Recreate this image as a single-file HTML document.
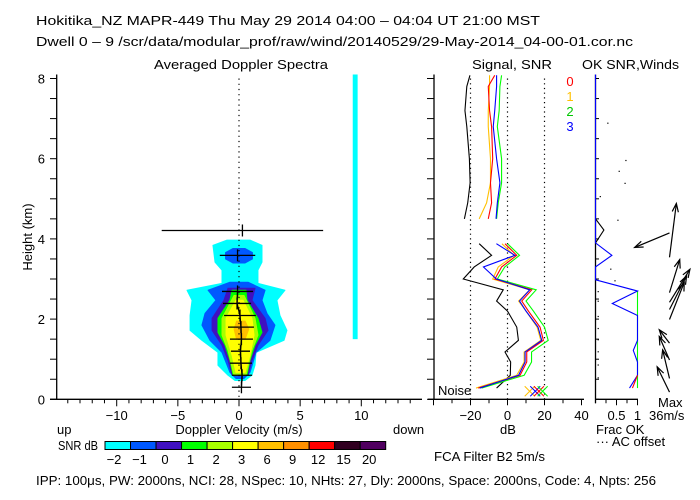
<!DOCTYPE html>
<html><head><meta charset="utf-8"><style>
html,body{margin:0;padding:0;background:#fff;}
svg{display:block;font-family:"Liberation Sans",sans-serif;}
text{font-size:13px;fill:#000;}
</style></head><body>
<svg id="chart" width="700" height="500" viewBox="0 0 700 500" xmlns="http://www.w3.org/2000/svg">
<rect x="0" y="0" width="700" height="500" fill="#fff"/>
<text x="36" y="25" font-size="14" textLength="504" lengthAdjust="spacingAndGlyphs">Hokitika_NZ  MAPR-449  Thu May 29 2014 04:00 – 04:04 UT 21:00 MST</text>
<text x="36" y="46" font-size="14" textLength="597" lengthAdjust="spacingAndGlyphs">Dwell  0 –  9   /scr/data/modular_prof/raw/wind/20140529/29-May-2014_04-00-01.cor.nc</text>
<text x="154" y="69" font-size="14" textLength="174" lengthAdjust="spacingAndGlyphs">Averaged Doppler Spectra</text>
<text x="472" y="69" font-size="14" textLength="80" lengthAdjust="spacingAndGlyphs">Signal, SNR</text>
<text x="582" y="69" font-size="14" textLength="97" lengthAdjust="spacingAndGlyphs">OK SNR,Winds</text>
<text transform="translate(32,237) rotate(-90)" text-anchor="middle" font-size="13">Height (km)</text>
<g id="main"></g>
<g id="mid"></g>
<g id="right"></g>
<g id="cbar"></g>
<text x="57" y="434">up</text>
<text x="239" y="434" text-anchor="middle">Doppler Velocity (m/s)</text>
<text x="393" y="434">down</text>
<text x="58" y="450" textLength="40" lengthAdjust="spacingAndGlyphs">SNR dB</text>
<text x="508" y="434" text-anchor="middle">dB</text>
<text x="434" y="461" textLength="111" lengthAdjust="spacingAndGlyphs">FCA Filter B2  5m/s</text>
<text x="596" y="434">Frac OK</text>
<text x="596" y="446">··· AC offset</text>
<text x="658" y="407">Max</text>
<text x="649" y="420">36m/s</text>
<text x="438" y="395" font-size="12">Noise</text>
<text x="36" y="485" textLength="620" lengthAdjust="spacingAndGlyphs">IPP: 100μs,  PW: 2000ns,  NCI:  28,  NSpec: 10, NHts: 27,  Dly: 2000ns,  Space: 2000ns,  Code: 4,  Npts: 256</text>
</svg>
<script>
// ---------- data ----------
const heightTicks = [0,0.5,1,1.5,2,2.5,3,3.5,4,4.5,5,5.5,6,6.5,7,7.5,8];
const heightLabels = ['0','2','4','6','8'];
const velTickLabels = ['-10','-5','0','5','10'];
const dbTickLabels = ['-20','0','20','40'];
const fracTickLabels = ['0.5','1'];
const cbarLabels = ['-2','-1','0','1','2','3','6','9','12','15','20'];
const cbarColors = ['#00ffff','#0058ff','#4010c0','#00ff00','#a8ff00','#ffff00','#ffc000','#ff9000','#ff0000','#300020','#500060'];
const cyanH = [3.97,3.84,3.42,3.22,2.89,2.72,2.47,2.09,1.72,1.47,1.17,0.85,0.6,0.47];
const cyanL = [-0.98,-2.13,-1.96,-1.39,-1.39,-4.25,-3.84,-4.0,-4.0,-3.03,-1.72,-1.72,-0.9,-0.33];
const cyanR = [0.9,1.88,1.88,1.55,1.55,3.76,3.1,3.35,3.92,3.68,1.39,1.31,1.06,0.49];
const blueTopH = [3.76,3.66,3.5,3.4];
const blueTopL = [-0.5,-1.1,-1.1,-0.5];
const blueTopR = [0.5,1.1,1.1,0.5];
const blueH = [2.92,2.72,2.47,2.14,1.85,1.47,1.17,0.67,0.52];
const blueL = [-0.74,-2.53,-1.88,-2.78,-3.03,-2.37,-1.39,-0.74,-0.25];
const blueR = [0.74,2.13,1.88,2.29,2.94,2.53,1.39,0.9,0.41];
const indigoH = [2.77,2.47,2.02,1.72,1.35,0.97,0.6];
const indigoL = [-0.9,-1.23,-2.2,-2.2,-1.39,-0.9,-0.57];
const indigoR = [1.31,1.06,2.13,2.37,1.55,1.06,0.74];
const greenH = [2.72,2.47,2.02,1.67,1.35,0.97,0.6];
const greenL = [-0.57,-0.74,-1.72,-1.72,-1.14,-0.74,-0.49];
const greenR = [0.57,0.65,1.55,1.88,1.31,0.9,0.65];
const lgreenH = [2.59,2.02,1.6,1.22,0.6];
const lgreenL = [-0.41,-1.39,-1.39,-0.9,-0.41];
const lgreenR = [0.41,1.31,1.55,1.06,0.57];
const yellowH = [2.47,2.02,1.6,1.1,0.67];
const yellowL = [-0.25,-1.06,-1.06,-0.57,-0.25];
const yellowR = [0.33,1.06,1.23,0.9,0.49];
const goldH = [1.95,1.75,1.5];
const goldL = [-0.2,-0.4,-0.2];
const goldR = [0.5,0.8,0.5];
const crossH = [4.21,3.59,2.69,2.39,2.09,1.80,1.50,1.20,0.90,0.60,0.30];
const crossV = [0.28,-0.12,-0.12,-0.16,0.08,0.16,0.2,0.12,0.16,0.25,0.2];
const crossW = [6.6,1.45,1.27,1.15,1.3,1.06,0.94,0.78,0.9,0.82,0.78];
const barVel = [9.3,9.7];
const barHeight = [1.5,8.1];
const upperH = [4.5,4.9,5.4,6.0,6.8,7.2,7.8,8.08];
const lowerH = [0.28,0.6,0.93,1.18,1.47,1.8,2.2,2.45,2.73,3.0,3.3,3.59,3.88];
const sigUpper = [-23.3,-21.5,-20.2,-20.6,-22,-23,-22,-20.3];
const sigLower = [-5.9,1.5,1.7,-1.35,5.9,5,0,-5.9,-2.3,-23.9,-18,-8.6,-15.3];
const snr0Upper = [-10.4,-8.6,-9.2,-8.0,-8.6,-9.7,-10.4,-6.9];
const snr1Upper = [-15.3,-11.3,-9.2,-9.2,-10.4,-10.4,-9.7,-9.7];
const snr2Upper = [-5.9,-5.0,-3.2,-3.2,-5.5,-4.5,-4.1,-3.2];
const snr3Upper = [-6.2,-5.5,-4.1,-5.9,-7.7,-6.9,-5.9,-5.9];
const snr0Lower = [-15.8,6.8,10.4,10.4,19.4,17.6,11.3,7.7,13.1,-6.8,-3.2,5.0,-1.35];
const snr1Lower = [-17,5,9,9,18,16,10,6,12,-8,-5,3.5,-3];
const snr2Lower = [-14,9,13,13,22,20,14,10,15.5,-5.5,-1.5,6.5,0];
const snr3Lower = [-15,6,9.5,9.5,18.5,16.5,10,6.5,12,-6,-13,4,-6];
const noiseMarkDb = [12,15,17,19];
const okBlackH = [4.5,4.22,3.9];
const okBlackF = [0,0.2,0];
const okBlueH = [8.1,3.9,3.59,3.3,2.98,2.7,2.39,2.09,1.47,1.22,0.93,0.6,0.28];
const okBlueF = [0,0,0.39,0,0,1,0.4,1,1,0.9,1,1,0.81];
const okGreenH = [2.7,0.28];
const okGreenF = [1,1];
const okRedH = [0.6,0.28];
const okRedF = [1,0.88];
const acDotH = [6.9,5.97,5.7,5.4,5.07,4.48,3.26,2.97,2.7,2.46,2.08,1.78,1.5,1.2,0.87,0.55];
const acDotF = [0.28,0.71,0.55,0.69,0.1,0.52,0.35,0.45,0.05,0.05,0.05,0.05,0.05,0.05,0.05,0.05];
const windH = [3.54,4.15,2.66,2.42,2.24,1.99,1.40,0.98,0.52,0.18];
const windU = [4.9,-24.9,7.3,14.6,12.2,10.5,-7.3,-7.3,-4.9,-8.8];
const windVc = [38.5,-10.4,23.6,23.6,24,26.4,9.6,16.8,20.4,18];

const yH = h => 399.3 - h*40.1;
const xV = v => 239 + v*12.23;
const xDb = d => 507.5 + d*1.85;
const xF = f => 595.5 + f*42;
const NS = 'http://www.w3.org/2000/svg';
function mk(tag, attrs, parent){const e=document.createElementNS(NS,tag);for(const k in attrs)e.setAttribute(k,attrs[k]);parent.appendChild(e);return e;}
const main=document.getElementById('main'), mid=document.getElementById('mid'), right=document.getElementById('right'), cbar=document.getElementById('cbar');

function contour(H,L,R,color,name){
  const pts=[];
  for(let i=0;i<H.length;i++)pts.push(xV(L[i])+','+yH(H[i]));
  for(let i=H.length-1;i>=0;i--)pts.push(xV(R[i])+','+yH(H[i]));
  const p=mk('polygon',{points:pts.join(' '),fill:color,stroke:color,'stroke-width':1,'stroke-linejoin':'round'},main);
  
  
}
contour(cyanH,cyanL,cyanR,cbarColors[0],'contour-snr-minus2');
contour(blueTopH,blueTopL,blueTopR,cbarColors[1],'contour-snr-minus1-top');
contour(blueH,blueL,blueR,cbarColors[1],'contour-snr-minus1');
contour(indigoH,indigoL,indigoR,cbarColors[2],'contour-snr-0');
contour(greenH,greenL,greenR,cbarColors[3],'contour-snr-1');
contour(lgreenH,lgreenL,lgreenR,cbarColors[4],'contour-snr-2');
contour(yellowH,yellowL,yellowR,cbarColors[5],'contour-snr-3');
contour(goldH,goldL,goldR,cbarColors[6],'contour-snr-6');

const bar=mk('rect',{x:xV(barVel[0]),y:yH(barHeight[1]),width:xV(barVel[1])-xV(barVel[0]),height:yH(barHeight[0])-yH(barHeight[1]),fill:'#00ffff'},main);



const zl=mk('line',{x1:xV(0),x2:xV(0),y1:yH(8),y2:yH(0),stroke:'#000','stroke-width':1.2,'stroke-dasharray':'1.2 4'},main);



for(let i=0;i<crossH.length;i++){
  const y=yH(crossH[i]), x=xV(crossV[i]);
  const g=mk('g',{stroke:'#000','stroke-width':1.3},main);
  
  
  mk('line',{x1:xV(crossV[i]-crossW[i]),x2:xV(crossV[i]+crossW[i]),y1:y,y2:y},g);
  mk('line',{x1:x,x2:x,y1:y-6,y2:y+6},g);
}
{
  const pts=[];
  for(let i=2;i<crossH.length;i++){pts.push(xV(crossV[i])+','+yH(crossH[i]));}
  const pl=mk('polyline',{points:pts.join(' '),fill:'none',stroke:'#000','stroke-width':1.3},main);
  
  
}

function axisLine(x1,y1,x2,y2,parent,name){const l=mk('line',{x1,y1,x2,y2,stroke:'#000','stroke-width':1.3},parent);}
axisLine(56.7,yH(8.1),56.7,yH(0),main,'y-axis');
axisLine(50,yH(0),422,yH(0),main,'x-axis');
heightTicks.forEach(h=>{mk('line',{x1:50,x2:56.7,y1:yH(h),y2:yH(h),stroke:'#000'},main);
  mk('line',{x1:427,x2:434,y1:yH(h),y2:yH(h),stroke:'#000'},mid);
  mk('line',{x1:595.5,x2:599,y1:yH(h),y2:yH(h),stroke:'#000'},right);});
heightLabels.forEach(s=>{const t=mk('text',{x:45,y:yH(+s)+5,'text-anchor':'end'},main);t.textContent=s;
  
  });
for(let v=-15;v<=15;v++){const x=xV(v);if(x<57||x>422)continue;mk('line',{x1:x,x2:x,y1:yH(0),y2:yH(0)+(v%5===0?7:4),stroke:'#000'},main);}
velTickLabels.forEach(s=>{const t=mk('text',{x:xV(+s),y:420,'text-anchor':'middle'},main);t.textContent=s.replace('-','−');
  
  });

const cw=(385.7-105)/cbarColors.length;
cbarColors.forEach((c,i)=>{
  const r=mk('rect',{x:105+i*cw,y:441.5,width:cw,height:8,fill:c,stroke:'#000','stroke-width':1},cbar);
  
  
  const t=mk('text',{x:105+i*cw+9,y:464,'text-anchor':'middle'},cbar);t.textContent=cbarLabels[i].replace('-','−');
  
  
});

[-20,0,20].forEach(d=>{const l=mk('line',{x1:xDb(d),x2:xDb(d),y1:yH(8),y2:yH(0),stroke:'#000','stroke-width':1.2,'stroke-dasharray':'1.2 3.5'},mid);
  
  });
function series(H,D,color,name){
  const pts=H.map((h,i)=>Math.max(434,xDb(D[i]))+','+yH(h));
  const p=mk('polyline',{points:pts.join(' '),fill:'none',stroke:color,'stroke-width':1.1},mid);
  
  
}
series(upperH,sigUpper,'#000','signal-upper');
series(lowerH,sigLower,'#000','signal-lower');
series(upperH,snr1Upper,'#ffc000','snr1-upper');
series(upperH,snr2Upper,'#00ff00','snr2-upper');
series(upperH,snr0Upper,'#ff0000','snr0-upper');
series(upperH,snr3Upper,'#0000ff','snr3-upper');
series(lowerH,snr2Lower,'#00ff00','snr2-lower');
series(lowerH,snr1Lower,'#ffc000','snr1-lower');
series(lowerH,snr0Lower,'#ff0000','snr0-lower');
series(lowerH,snr3Lower,'#0000ff','snr3-lower');
const nmColors=['#ffc000','#0000ff','#ff0000','#00ff00'];
noiseMarkDb.forEach((d,i)=>{const x=xDb(d),y=yH(0.2);
  const g=mk('g',{stroke:nmColors[i],'stroke-width':1},mid);
  
  
  mk('line',{x1:x-5,y1:y-5,x2:x+5,y2:y+5},g);mk('line',{x1:x-5,y1:y+5,x2:x+5,y2:y-5},g);});
axisLine(434,yH(8.1),434,yH(0),mid,'db-panel-y-axis');
axisLine(428,yH(0),584,yH(0),mid,'db-axis');
for(let d=-40;d<=40;d+=10){mk('line',{x1:xDb(d),x2:xDb(d),y1:yH(0),y2:yH(0)+(d%20===0?6:4),stroke:'#000'},mid);}
dbTickLabels.forEach(s=>{const t=mk('text',{x:xDb(+s),y:420,'text-anchor':'middle'},mid);t.textContent=s.replace('-','−');
  
  });
const legCols=['#ff0000','#ffc000','#00c800','#0000ff'];
['0','1','2','3'].forEach((s,i)=>{const t=mk('text',{x:570,y:86+i*15,'text-anchor':'middle',style:'fill:'+legCols[i]},mid);t.textContent=s;
  
  });

axisLine(595.5,yH(8.1),595.5,yH(0)+4,right,'frac-axis-y');
axisLine(595.5,yH(0),638,yH(0),right,'frac-axis');
for(let f=0;f<=1.0001;f+=0.25){mk('line',{x1:xF(f),x2:xF(f),y1:yH(0),y2:yH(0)+(Math.abs(f-0.5)<0.01||f>0.99?6:4),stroke:'#000'},right);}
fracTickLabels.forEach(s=>{const t=mk('text',{x:xF(+s),y:420,'text-anchor':'middle'},right);t.textContent=s;
  
  });
function okLine(H,F,color,name){
  const p=mk('polyline',{points:H.map((h,i)=>xF(F[i])+','+yH(h)).join(' '),fill:'none',stroke:color,'stroke-width':1.1},right);
  
  
}
okLine(okBlackH,okBlackF,'#000','frac-ok-black');
okLine(okGreenH,okGreenF,'#00ff00','frac-ok-green');
okLine(okBlueH,okBlueF,'#0000ff','frac-ok-blue');
okLine(okRedH,okRedF,'#ff0000','frac-ok-red');
acDotH.forEach((h,i)=>{const c=mk('rect',{x:xF(acDotF[i]),y:yH(h),width:1.2,height:1.2,fill:'#000'},right);
  
  });
const windScale=1.4, windX=669.5;
windH.forEach((h,i)=>{
  const x0=windX,y0=yH(h),x1=x0+windU[i]*windScale,y1=y0-windVc[i]*windScale;
  const g=mk('g',{stroke:'#000','stroke-width':1.2,fill:'none'},right);
  
  
  mk('line',{x1:x0,y1:y0,x2:x1,y2:y1},g);
  const a=Math.atan2(y1-y0,x1-x0),L=9,s=0.35;
  mk('polyline',{points:(x1-L*Math.cos(a-s))+','+(y1-L*Math.sin(a-s))+' '+x1+','+y1+' '+(x1-L*Math.cos(a+s))+','+(y1-L*Math.sin(a+s))},g);
});
</script>
</body></html>
